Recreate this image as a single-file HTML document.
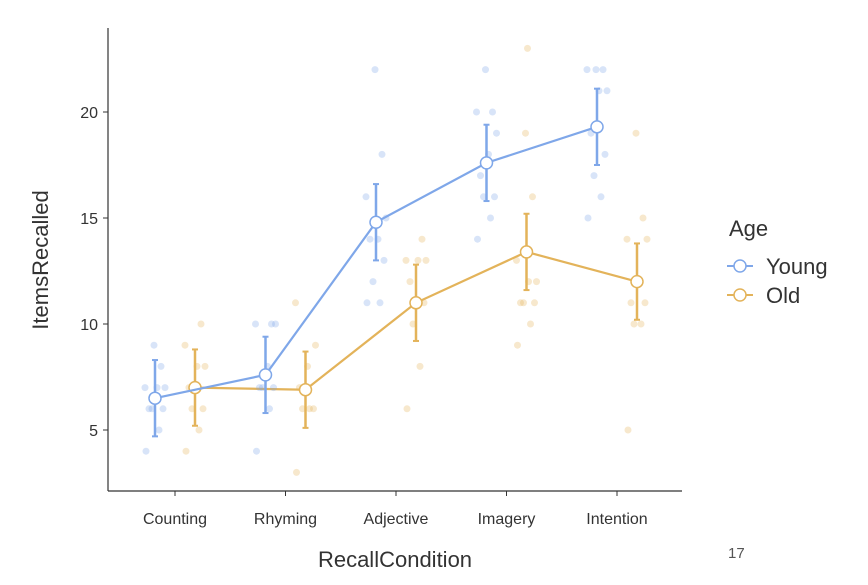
<!DOCTYPE html>
<html><head><meta charset="utf-8"><style>
body{margin:0;background:#fff;font-family:"Liberation Sans",Arial,sans-serif}
svg text{font-family:"Liberation Sans",Arial,sans-serif}
</style></head><body>
<svg id="c" width="868" height="580"></svg>
<script>
const categories=["Counting","Rhyming","Adjective","Imagery","Intention"];
const youngMeans=[6.5,7.6,14.8,17.6,19.3];
const oldMeans=[7.0,6.9,11.0,13.4,12.0];
const youngErr=[1.8,1.8,1.8,1.8,1.8];
const oldErr=[1.8,1.8,1.8,1.8,1.8];
const youngPts=[[4,5,6,6,6,7,7,7,8,9],[4,6,7,7,7,8,10,10,10],[11,11,12,13,14,14,15,16,18,22],[14,15,16,16,17,18,19,20,20,22],[15,16,17,18,19,21,21,22,22,22]];
const oldPts=[[4,5,6,6,7,8,8,9,10],[3,6,6,6,7,8,9,11],[6,8,10,11,12,13,13,13,14],[9,10,11,11,11,12,12,13,16,19,23],[5,10,10,11,11,12,14,14,15,19]];
const yTicks=[5,10,15,20];
const jit=[-9,4,-3,8,-6,2,10,-10,6,-1,1];
const S="http://www.w3.org/2000/svg",svg=document.getElementById('c');
function el(t,a,txt){const e=document.createElementNS(S,t);for(const k in a)e.setAttribute(k,a[k]);if(txt!=null)e.textContent=txt;svg.appendChild(e);return e;}
const y=v=>430-(v-5)*21.2, x=i=>175+i*110.5;
const BL="#7fa7e9",OR="#e3b35a";
let e;
e=el('line',{x1:108,y1:28,x2:108,y2:491,stroke:'#333','stroke-width':1.2});

e=el('line',{x1:108,y1:491,x2:682,y2:491,stroke:'#333','stroke-width':1.2});

yTicks.forEach(t=>{el('line',{x1:103,x2:108,y1:y(t),y2:y(t),stroke:'#333'});
e=el('text',{x:98,y:y(t)+6,'text-anchor':'end','font-size':16,fill:'#333'},t);
});
categories.forEach((c,i)=>{el('line',{x1:x(i),x2:x(i),y1:491,y2:496,stroke:'#333'});
e=el('text',{x:x(i),y:524,'text-anchor':'middle','font-size':16,fill:'#333'},c);
});
e=el('text',{x:395,y:567,'text-anchor':'middle','font-size':22,fill:'#333'},'RecallCondition');

e=el('text',{x:48,y:260,'text-anchor':'middle','font-size':22,fill:'#333',transform:'rotate(-90 48 260)'},'ItemsRecalled');

function series(pts,means,err,off,col,nm){
 pts.forEach((arr,i)=>arr.forEach((v,j)=>{e=el('circle',{cx:x(i)+off+jit[j%jit.length],cy:y(v),r:3.5,fill:col,opacity:0.3});
 }));
 e=el('polyline',{points:means.map((m,i)=>(x(i)+off)+','+y(m)).join(' '),fill:'none',stroke:col,'stroke-width':2.2});
 
 means.forEach((m,i)=>{const cx=x(i)+off;
  e=el('line',{x1:cx,x2:cx,y1:y(m-err[i]),y2:y(m+err[i]),stroke:col,'stroke-width':2.5});
  
  el('line',{x1:cx-3,x2:cx+3,y1:y(m-err[i]),y2:y(m-err[i]),stroke:col,'stroke-width':2});
  el('line',{x1:cx-3,x2:cx+3,y1:y(m+err[i]),y2:y(m+err[i]),stroke:col,'stroke-width':2});
  e=el('circle',{cx:cx,cy:y(m),r:6,fill:'#fff',stroke:col,'stroke-width':1.5});
  });
}
series(oldPts,oldMeans,oldErr,20,OR,'old');
series(youngPts,youngMeans,youngErr,-20,BL,'young');
e=el('text',{x:729,y:236,'font-size':22,fill:'#333'},'Age');

[["Young",BL,266],["Old",OR,295]].forEach(([n,c,yy])=>{
 el('line',{x1:727,x2:753,y1:yy,y2:yy,stroke:c,'stroke-width':2});
 el('circle',{cx:740,cy:yy,r:6,fill:'#fff',stroke:c,'stroke-width':1.5});
 e=el('text',{x:766,y:yy+8,'font-size':22,fill:'#333'},n);
 });
e=el('text',{x:728,y:558,'font-size':15,fill:'#555'},'17');

</script></body></html>
